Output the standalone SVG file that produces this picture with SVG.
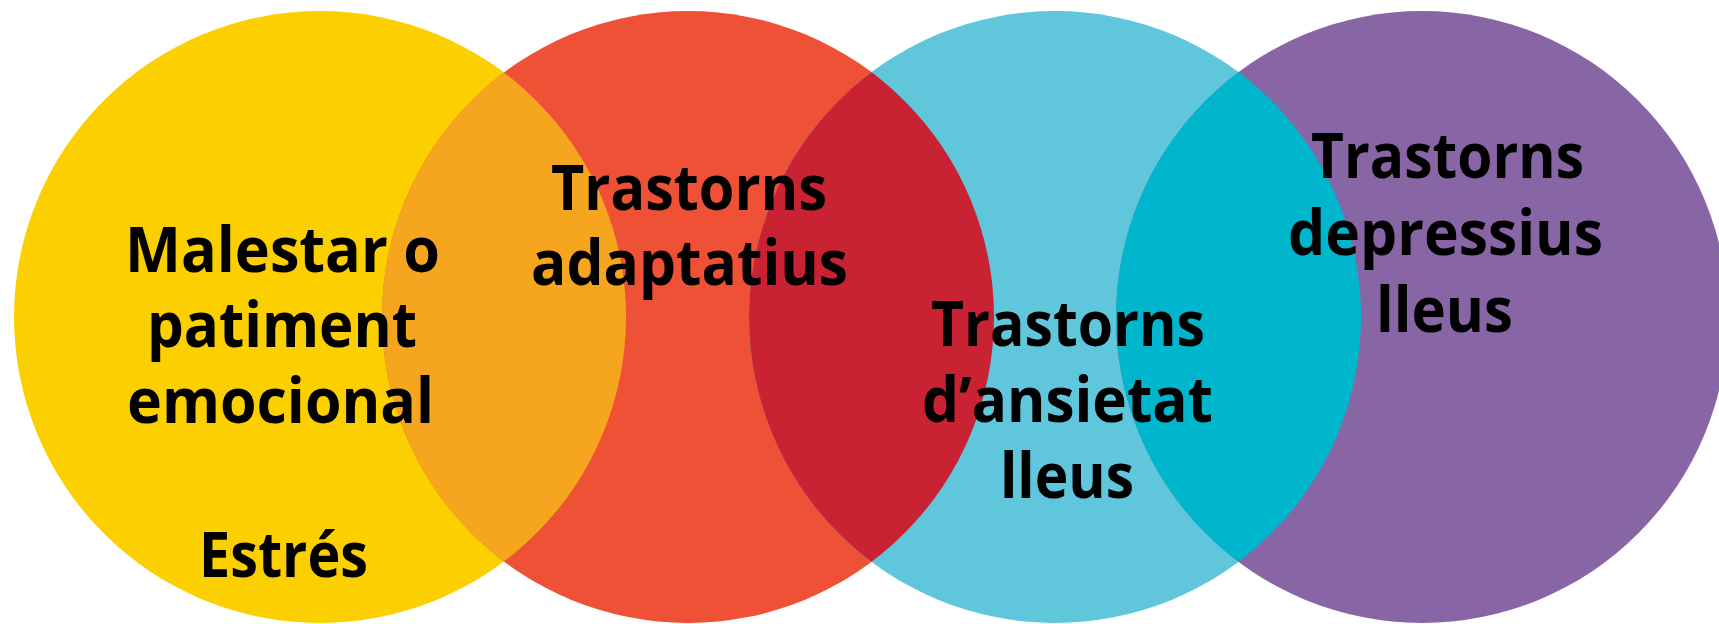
<svg xmlns="http://www.w3.org/2000/svg" width="1719" height="624" viewBox="0 0 1719 624">
<style>
.lbl{font-family:"Open Sans","Liberation Sans",sans-serif;font-weight:700;font-size:63px;fill:#000}
</style>
<defs>
<clipPath id="cpY"><circle cx="320" cy="317" r="306"/></clipPath>
<clipPath id="cpR"><circle cx="688" cy="317" r="306"/></clipPath>
<clipPath id="cpC"><circle cx="1055" cy="317" r="306"/></clipPath>
</defs>
<rect width="1719" height="624" fill="#fff"/>
<g id="yellow">
<circle cx="320" cy="317" r="306" fill="#FCD000"/>
</g>
<g id="red">
<circle cx="688" cy="317" r="306" fill="#EF5136"/>
<circle cx="688" cy="317" r="306" fill="#F5A61E" clip-path="url(#cpY)"/>
</g>
<g id="cyan">
<circle cx="1055" cy="317" r="306" fill="#5FC6DC"/>
<circle cx="1055" cy="317" r="306" fill="#C82233" clip-path="url(#cpR)"/>
</g>
<g id="purple">
<circle cx="1422" cy="317" r="306" fill="#8865A5"/>
<circle cx="1422" cy="317" r="306" fill="#00B6CD" clip-path="url(#cpC)"/>
</g>
<g id="label-yellow">
<text class="lbl" x="125" y="272" textLength="315" lengthAdjust="spacingAndGlyphs">Malestar o</text>
<text class="lbl" x="147" y="347" textLength="270" lengthAdjust="spacingAndGlyphs">patiment</text>
<text class="lbl" x="127" y="423" textLength="307" lengthAdjust="spacingAndGlyphs">emocional</text>
<text class="lbl" x="199" y="577" textLength="169" lengthAdjust="spacingAndGlyphs">Estrés</text>
</g>
<g id="label-red">
<text class="lbl" x="551" y="210" textLength="276" lengthAdjust="spacingAndGlyphs">Trastorns</text>
<text class="lbl" x="531" y="285" textLength="317" lengthAdjust="spacingAndGlyphs">adaptatius</text>
</g>
<g id="label-cyan">
<text class="lbl" x="931" y="346" textLength="274" lengthAdjust="spacingAndGlyphs">Trastorns</text>
<text class="lbl" x="922" y="422" textLength="291" lengthAdjust="spacingAndGlyphs">d’ansietat</text>
<text class="lbl" x="1000" y="498" textLength="134" lengthAdjust="spacingAndGlyphs">lleus</text>
</g>
<g id="label-purple">
<text class="lbl" x="1311" y="178" textLength="273" lengthAdjust="spacingAndGlyphs">Trastorns</text>
<text class="lbl" x="1288" y="255" textLength="315" lengthAdjust="spacingAndGlyphs">depressius</text>
<text class="lbl" x="1376" y="332" textLength="137" lengthAdjust="spacingAndGlyphs">lleus</text>
</g>
</svg>
